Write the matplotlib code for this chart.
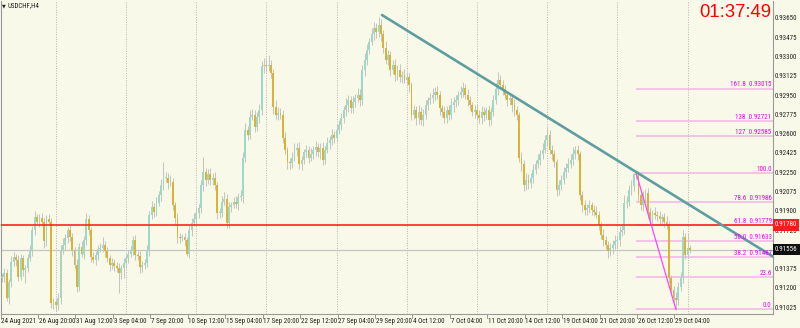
import matplotlib
matplotlib.use('Agg')
import matplotlib.pyplot as plt
import matplotlib.transforms as mtransforms
from matplotlib import font_manager as fm

# ---------------- data (USDCHF H4) ----------------
first_open = 0.9130
closes = [
    0.9131, 0.9134, 0.9112, 0.9126, 0.9144, 0.9149, 0.9146, 0.9131, 0.9148, 0.9137,
    0.9139, 0.9148, 0.9155, 0.9173, 0.9185, 0.9181, 0.9184, 0.9181, 0.9163, 0.9183,
    0.9181, 0.9107, 0.9108, 0.9105, 0.9112, 0.9155, 0.9160, 0.9166, 0.9173, 0.9167,
    0.9155, 0.9142, 0.9122, 0.9158, 0.9152, 0.9164, 0.9183, 0.9173, 0.9149, 0.9146,
    0.9151, 0.9156, 0.9157, 0.9160, 0.9154, 0.9148, 0.9142, 0.9143, 0.9141, 0.9139,
    0.9134, 0.9139, 0.9143, 0.9148, 0.9152, 0.9155, 0.9164, 0.9151, 0.9150, 0.9140,
    0.9142, 0.9143, 0.9155, 0.9187, 0.9194, 0.9190, 0.9198, 0.9205, 0.9214, 0.9221,
    0.9221, 0.9216, 0.9217, 0.9196, 0.9184, 0.9167, 0.9166, 0.9167, 0.9164, 0.9152,
    0.9173, 0.9180, 0.9183, 0.9189, 0.9193, 0.9214, 0.9226, 0.9219, 0.9224, 0.9219,
    0.9221, 0.9214, 0.9189, 0.9189, 0.9199, 0.9202, 0.9180, 0.9194, 0.9196, 0.9199,
    0.9197, 0.9203, 0.9204, 0.9239, 0.9264, 0.9260, 0.9276, 0.9278, 0.9267, 0.9276,
    0.9282, 0.9322, 0.9323, 0.9322, 0.9323, 0.9316, 0.9285, 0.9278, 0.9280, 0.9278,
    0.9257, 0.9246, 0.9235, 0.9234, 0.9239, 0.9246, 0.9248, 0.9233, 0.9237, 0.9244,
    0.9246, 0.9239, 0.9242, 0.9246, 0.9249, 0.9244, 0.9248, 0.9237, 0.9246, 0.9252,
    0.9255, 0.9260, 0.9257, 0.9264, 0.9269, 0.9275, 0.9282, 0.9287, 0.9291, 0.9284,
    0.9290, 0.9293, 0.9296, 0.9291, 0.9319, 0.9328, 0.9337, 0.9344, 0.9351, 0.9357,
    0.9353, 0.9360, 0.9351, 0.9339, 0.9328, 0.9332, 0.9319, 0.9323, 0.9314, 0.9319,
    0.9312, 0.9314, 0.9310, 0.9312, 0.9305, 0.9278, 0.9282, 0.9275, 0.9281, 0.9273,
    0.9278, 0.9287, 0.9291, 0.9293, 0.9296, 0.9299, 0.9296, 0.9284, 0.9281, 0.9275,
    0.9282, 0.9278, 0.9287, 0.9290, 0.9291, 0.9296, 0.9299, 0.9302, 0.9296, 0.9291,
    0.9287, 0.9281, 0.9282, 0.9278, 0.9275, 0.9281, 0.9278, 0.9282, 0.9273, 0.9281,
    0.9291, 0.9301, 0.9310, 0.9305, 0.9301, 0.9296, 0.9291, 0.9293, 0.9287, 0.9282,
    0.9278, 0.9239, 0.9233, 0.9214, 0.9219, 0.9216, 0.9221, 0.9228, 0.9233, 0.9237,
    0.9242, 0.9246, 0.9255, 0.9260, 0.9246, 0.9242, 0.9235, 0.9210, 0.9214, 0.9219,
    0.9226, 0.9230, 0.9233, 0.9237, 0.9242, 0.9246, 0.9242, 0.9205, 0.9196, 0.9192,
    0.9193, 0.9196, 0.9192, 0.9190, 0.9187, 0.9178, 0.9169, 0.9164, 0.9160, 0.9154,
    0.9157, 0.9160, 0.9163, 0.9164, 0.9172, 0.9173, 0.9198, 0.9199, 0.9210, 0.9213,
    0.9224, 0.9223, 0.9205, 0.9196, 0.9203, 0.9207, 0.9190, 0.9183, 0.9189, 0.9187,
    0.9186, 0.9183, 0.9185, 0.9181, 0.9178, 0.9130, 0.9119, 0.9112, 0.9110, 0.9122,
    0.9130, 0.9167, 0.9151, 0.9157, 0.91556,
]
upper_wick_pips = [
    3, 5, 4, 3, 6, 4, 3, 5, 4, 3,   3, 4, 5, 4, 6, 3, 4, 5, 3, 4,
    5, 3, 4, 3, 4, 5, 6, 4, 3, 5,   4, 3, 5, 4, 5, 4, 6, 4, 3, 4,
    3, 4, 5, 7, 3, 4, 3, 5, 4, 3,   4, 3, 5, 4, 3, 4, 4, 5, 3, 4,
    3, 4, 5, 4, 6, 4, 5, 4, 6, 14,  5, 4, 6, 4, 3, 5, 4, 3, 4, 3,
    5, 4, 6, 5, 4, 5, 14, 4, 5, 6,  4, 5, 3, 4, 5, 6, 4, 5, 3, 4,
    5, 4, 6, 5, 7, 4, 6, 5, 4, 5,   6, 5, 7, 6, 9, 5, 4, 6, 5, 4,
    4, 5, 3, 4, 5, 6, 4, 5, 4, 3,   5, 4, 6, 4, 5, 3, 4, 5, 4, 6,
    4, 5, 3, 6, 4, 5, 4, 6, 5, 4,   5, 4, 6, 5, 4, 6, 5, 4, 6, 5,
    4, 7, 5, 4, 6, 5, 4, 5, 6, 4,   5, 4, 6, 5, 4, 3, 5, 4, 6, 4,
    5, 4, 3, 5, 6, 4, 5, 4, 3, 5,   4, 5, 6, 4, 5, 4, 5, 6, 4, 5,
    4, 3, 5, 6, 4, 5, 4, 3, 5, 4,   5, 6, 7, 4, 5, 4, 3, 5, 4, 5,
    4, 3, 5, 4, 6, 5, 4, 5, 4, 5,   4, 6, 5, 7, 4, 5, 4, 3, 5, 4,
    5, 4, 6, 5, 7, 4, 5, 3, 4, 5,   4, 5, 3, 4, 5, 4, 3, 5, 4, 3,
    5, 4, 6, 4, 5, 6, 7, 5, 4, 6,   1, 1.2, 4, 5, 6, 4, 5, 4, 3, 5,
    4, 5, 3, 4, 5, 4, 3, 4, 5, 4,   5, 6, 4, 14, 3,
]
lower_wick_pips = [
    4, 5, 3, 6, 4, 3, 5, 4, 3, 5,   12, 4, 3, 5, 4, 3, 5, 4, 6, 4,
    3, 4, 5, 5, 4, 6, 3, 5, 4, 4,   5, 4, 5, 4, 3, 5, 4, 4, 5, 3,
    4, 5, 3, 4, 5, 4, 6, 4, 5, 4,   18, 5, 9, 4, 5, 3, 4, 5, 4, 6,
    5, 4, 3, 5, 4, 5, 4, 3, 5, 4,   4, 5, 3, 4, 6, 5, 4, 3, 5, 2,
    4, 5, 3, 4, 5, 4, 5, 6, 4, 5,   5, 4, 6, 5, 4, 3, 5, 5, 4, 3,
    4, 5, 3, 6, 4, 5, 4, 3, 5, 4,   5, 4, 6, 5, 4, 5, 6, 4, 5, 4,
    5, 4, 6, 5, 4, 3, 5, 4, 5, 4,   4, 5, 3, 4, 5, 4, 6, 5, 4, 3,
    5, 4, 5, 4, 3, 5, 4, 5, 6, 4,   4, 5, 3, 5, 4, 6, 5, 4, 3, 5,
    5, 4, 6, 5, 4, 5, 6, 4, 5, 4,   4, 5, 3, 4, 6, 5, 4, 6, 5, 4,
    5, 4, 5, 3, 4, 5, 4, 6, 5, 4,   4, 5, 4, 6, 5, 4, 3, 5, 4, 5,
    5, 4, 6, 5, 4, 5, 6, 4, 5, 4,   4, 3, 5, 4, 5, 4, 5, 4, 6, 5,
    5, 4, 6, 5, 4, 5, 4, 5, 4, 3,   5, 4, 3, 5, 4, 5, 4, 6, 5, 4,
    4, 5, 4, 3, 5, 4, 5, 4, 6, 5,   5, 4, 5, 4, 3, 5, 4, 5, 4, 6,
    4, 5, 4, 6, 5, 4, 3, 5, 4, 5,   4, 3, 5, 4, 5, 4, 6, 4, 5, 4,
    4, 5, 4, 5, 4, 5, 4, 5, 9, 5,   4, 5, 4, 3, 3,
]

time_labels = ['24 Aug 2021', '26 Aug 20:00', '31 Aug 12:00', '3 Sep 04:00', '7 Sep 20:00',
               '10 Sep 12:00', '15 Sep 04:00', '17 Sep 20:00', '22 Sep 12:00', '27 Sep 04:00',
               '29 Sep 20:00', '4 Oct 12:00', '7 Oct 04:00', '11 Oct 20:00', '14 Oct 12:00',
               '19 Oct 04:00', '21 Oct 20:00', '26 Oct 12:00', '29 Oct 04:00']
time_label_bars = [0, 16, 32, 48, 64, 80, 96, 112, 128, 144, 160, 176, 192, 208, 224, 240, 256, 272, 288]
week_separator_bars = [23, 53, 83, 113, 143, 173, 203, 233, 263, 293]
price_ticks = [0.93650, 0.93475, 0.93300, 0.93125, 0.92950, 0.92775, 0.92600, 0.92425,
               0.92250, 0.92075, 0.91900, 0.91725, 0.91550, 0.91375, 0.91200, 0.91025]

red_level = 0.91780
bid_price = 0.91556
trend_bars = [162.4, 329.5]
trend_prices = [0.93686, 0.91493]

fib_high_bar, fib_high = 271, 0.92252
fib_low_bar, fib_low = 288, 0.91014
fib_levels = [0.0, 23.6, 38.2, 50.0, 61.8, 78.6, 100.0, 127.0, 138.0, 161.8]
fib_texts = ['0.0', '23.6', '38.2  0.91487', '50.0  0.91633', '61.8  0.91779',
             '78.6  0.91986', '100.0', '127  0.92585', '138  0.92721', '161.8  0.93015']

symbol_title = 'USDCHF,H4'
clock_text = '01:37:49'

# ---------------- style ----------------
BG = '#F9F9EA'
BULL = '#9ED8C8'
BEAR = '#D9B236'
WICK = '#C6C6C0'

names = {f.name for f in fm.fontManager.ttflist}
narrow = next((n for n in ['Liberation Sans Narrow', 'Roboto Condensed', 'Open Sans Condensed',
                           'DejaVu Sans Condensed'] if n in names), None)
if narrow:
    small_font, FS = narrow, 5.0
else:
    small_font = 'Liberation Sans' if 'Liberation Sans' in names else 'DejaVu Sans'
    FS = 4.2
big_font = 'Liberation Sans' if 'Liberation Sans' in names else 'DejaVu Sans'

W, H = 800, 328
fig = plt.figure(figsize=(W / 100, H / 100), dpi=100, facecolor=BG)
ax = fig.add_axes([1 / W, 14 / H, 772 / W, 313 / H])
ax.set_facecolor(BG)
ax.set_xlim(-0.43, 329.5)
ax.set_ylim(0.909714, 0.938134)
ax.set_xticks([])
ax.set_yticks([])
for s in ['left', 'right', 'bottom']:
    ax.spines[s].set_color('#9A9A9A')
    ax.spines[s].set_linewidth(0.8)
ax.spines['top'].set_visible(False)

# week separators
for b in week_separator_bars:
    ax.axvline(b, color='#B4B4B4', lw=0.7, ls=(0, (1, 1.5)), zorder=1)

# bid line
ax.axhline(bid_price, color='#C4C4C4', lw=0.9, zorder=1)

# fib level lines
rng = fib_high - fib_low
for lev, txt in zip(fib_levels, fib_texts):
    p = fib_low + lev / 100.0 * rng
    ax.plot([fib_high_bar, 329.5], [p, p], color='#F3B4E6', lw=1.1, zorder=1.5, solid_capstyle='butt')
    ax.text(328.9, p + 0.00003, txt, ha='right', va='bottom', fontsize=FS,
            color='#EE00EE', family=small_font, zorder=6)

# candles
n = len(closes)
opens = [first_open] + closes[:-1]
xs = list(range(n))
highs = [max(o, c) + u * 0.0001 for o, c, u in zip(opens, closes, upper_wick_pips)]
lows = [min(o, c) - l * 0.0001 for o, c, l in zip(opens, closes, lower_wick_pips)]
ax.vlines(xs, lows, highs, color=WICK, lw=0.75, zorder=2)
bottoms = [min(o, c) for o, c in zip(opens, closes)]
heights = [max(abs(c - o), 0.00004) for o, c in zip(opens, closes)]
cols = [BULL if c >= o else BEAR for o, c in zip(opens, closes)]
ax.bar(xs, heights, bottom=bottoms, width=0.8, color=cols, linewidth=0, zorder=3)

ax.axhline(red_level, color='#FF2424', lw=1.2, zorder=4)

# fib diagonal
ax.plot([fib_high_bar, fib_low_bar], [fib_high, fib_low], color='#FF44FF', lw=0.9, zorder=5)

# trendline
ax.plot(trend_bars, trend_prices, color='#5F9EA0', lw=1.9, zorder=5, solid_capstyle='round')

# right price axis labels
tr = mtransforms.blended_transform_factory(ax.transAxes, ax.transData)
xr = (775 - 1) / 772
for p in price_ticks:
    ax.text(xr, p, f'{p:.5f}', transform=tr, ha='left', va='center', fontsize=FS,
            color='#222222', family=small_font, clip_on=False)
ax.text(xr, red_level, f'{red_level:.5f}', transform=tr, ha='left', va='center', fontsize=FS,
        color='white', family=small_font, clip_on=False, zorder=10,
        bbox=dict(boxstyle='square,pad=0.3', fc='#FF1A1A', ec='none'))
ax.text(xr, bid_price, f'{bid_price:.5f}', transform=tr, ha='left', va='center', fontsize=FS,
        color='white', family=small_font, clip_on=False, zorder=10,
        bbox=dict(boxstyle='square,pad=0.3', fc='#111111', ec='none'))

# time axis labels
tb = mtransforms.blended_transform_factory(ax.transData, ax.transAxes)
for b, lab in zip(time_label_bars, time_labels):
    ax.plot([b - 0.6, b - 0.6], [0, -3.5 / 313], transform=tb, color='#8A8A8A', lw=0.6, clip_on=False)
    ax.text(b - 0.3, -7.5 / 313, lab, transform=tb, ha='left', va='center', fontsize=FS,
            color='#222222', family=small_font, clip_on=False)

# title and clock
fig.text(1.5 / W, 1 - 5.5 / H, '\u25BC', fontsize=3.5, color='#222222', va='center', ha='left')
fig.text(7 / W, 1 - 5.5 / H, symbol_title, fontsize=FS, color='#222222', va='center', ha='left',
         family=small_font)
fig.text(771 / W, 1 - 12.5 / H, clock_text, fontsize=13.3, color='#FF0000', va='center', ha='right',
         family=big_font)

fig.savefig('out.png', dpi=100, facecolor=BG)
